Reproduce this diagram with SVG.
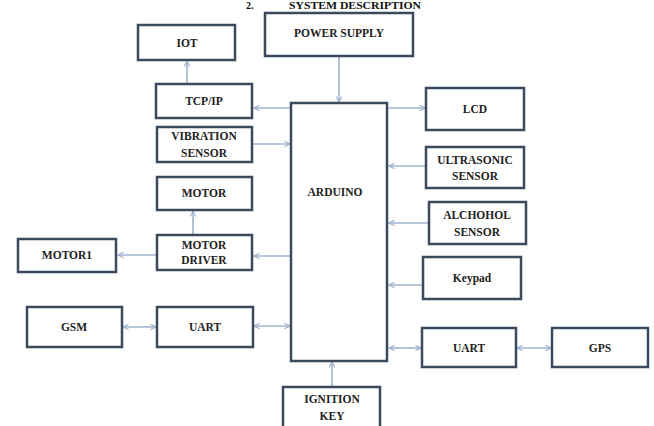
<svg xmlns="http://www.w3.org/2000/svg" width="654" height="426" viewBox="0 0 654 426">
<style>
.box{fill:#ffffff;stroke:#3b4a5c;stroke-width:2.5}
.lbl{font-family:"Liberation Serif","Times New Roman",serif;font-weight:bold;font-size:11.5px;fill:#222222;text-anchor:middle}
.con{stroke:#9fb3ce;stroke-width:1.6;fill:none}
.title{font-family:"Liberation Serif","Times New Roman",serif;font-weight:bold;font-size:10px;fill:#111111}
</style>
<defs>
<marker id="ah" viewBox="0 0 10 10" refX="9" refY="5" markerWidth="7" markerHeight="7" orient="auto-start-reverse" markerUnits="userSpaceOnUse">
<path d="M1,1 L9,5 L1,9" fill="none" stroke="#9fb3ce" stroke-width="1.6"/>
</marker>
</defs>
<rect width="654" height="426" fill="#ffffff"/>
<text class="title" x="246" y="9">2.</text>
<text class="title" x="289" y="9" textLength="132" lengthAdjust="spacingAndGlyphs">SYSTEM DESCRIPTION</text>

<g id="connectors">
<line class="con" x1="339" y1="56" x2="339" y2="102" marker-end="url(#ah)"/>
<line class="con" x1="187" y1="83" x2="187" y2="61" marker-end="url(#ah)"/>
<line class="con" x1="290" y1="108" x2="254" y2="108" marker-end="url(#ah)"/>
<line class="con" x1="388" y1="108" x2="425" y2="108" marker-end="url(#ah)"/>
<line class="con" x1="253" y1="144" x2="290" y2="144" marker-end="url(#ah)"/>
<line class="con" x1="425" y1="166" x2="389" y2="166" marker-end="url(#ah)"/>
<line class="con" x1="428" y1="223" x2="389" y2="223" marker-end="url(#ah)"/>
<line class="con" x1="422" y1="285" x2="389" y2="285" marker-end="url(#ah)"/>
<line class="con" x1="290" y1="256" x2="254" y2="256" marker-end="url(#ah)"/>
<line class="con" x1="193" y1="234" x2="193" y2="211" marker-end="url(#ah)"/>
<line class="con" x1="156" y1="255" x2="118" y2="255" marker-end="url(#ah)"/>
<line class="con" x1="123" y1="327" x2="156" y2="327" marker-start="url(#ah)" marker-end="url(#ah)"/>
<line class="con" x1="254" y1="326" x2="290" y2="326" marker-start="url(#ah)" marker-end="url(#ah)"/>
<line class="con" x1="389" y1="348" x2="421" y2="348" marker-start="url(#ah)" marker-end="url(#ah)"/>
<line class="con" x1="517" y1="348" x2="551" y2="348" marker-start="url(#ah)" marker-end="url(#ah)"/>
<line class="con" x1="332" y1="386" x2="332" y2="362" marker-end="url(#ah)"/>
</g>

<g id="iot"><rect class="box" x="138" y="25" width="97" height="35"/><text class="lbl" x="187" y="47">IOT</text></g>
<g id="power-supply"><rect class="box" x="265" y="13" width="148" height="43"/><text class="lbl" x="339" y="37">POWER SUPPLY</text></g>
<g id="tcpip"><rect class="box" x="156" y="84" width="96" height="34"/><text class="lbl" x="204" y="105">TCP/IP</text></g>
<g id="lcd"><rect class="box" x="426" y="88" width="98" height="42"/><text class="lbl" x="475" y="113">LCD</text></g>
<g id="vibration-sensor"><rect class="box" x="157" y="127" width="95" height="35"/><text class="lbl" x="204" y="140">VIBRATION</text><text class="lbl" x="204" y="157">SENSOR</text></g>
<g id="arduino"><rect class="box" x="291" y="103" width="96" height="258"/><text class="lbl" x="335" y="196">ARDUINO</text></g>
<g id="ultrasonic-sensor"><rect class="box" x="426" y="147" width="98" height="41"/><text class="lbl" x="475" y="164">ULTRASONIC</text><text class="lbl" x="475" y="180">SENSOR</text></g>
<g id="motor"><rect class="box" x="157" y="177" width="95" height="33"/><text class="lbl" x="204" y="197">MOTOR</text></g>
<g id="alchohol-sensor"><rect class="box" x="429" y="202" width="97" height="42"/><text class="lbl" x="477" y="219">ALCHOHOL</text><text class="lbl" x="477" y="236">SENSOR</text></g>
<g id="motor-driver"><rect class="box" x="157" y="235" width="95" height="35"/><text class="lbl" x="204" y="249">MOTOR</text><text class="lbl" x="204" y="264">DRIVER</text></g>
<g id="motor1"><rect class="box" x="18" y="239" width="98" height="33"/><text class="lbl" x="67" y="259">MOTOR1</text></g>
<g id="keypad"><rect class="box" x="423" y="257" width="98" height="42"/><text class="lbl" x="472" y="282">Keypad</text></g>
<g id="gsm"><rect class="box" x="27" y="307" width="95" height="40"/><text class="lbl" x="74" y="331">GSM</text></g>
<g id="uart-left"><rect class="box" x="157" y="307" width="96" height="40"/><text class="lbl" x="205" y="331">UART</text></g>
<g id="uart-right"><rect class="box" x="422" y="328" width="94" height="39"/><text class="lbl" x="469" y="352">UART</text></g>
<g id="gps"><rect class="box" x="552" y="328" width="96" height="39"/><text class="lbl" x="600" y="352">GPS</text></g>
<g id="ignition-key"><rect class="box" x="283" y="387" width="97" height="42"/><text class="lbl" x="332" y="403">IGNITION</text><text class="lbl" x="332" y="420">KEY</text></g>
</svg>
